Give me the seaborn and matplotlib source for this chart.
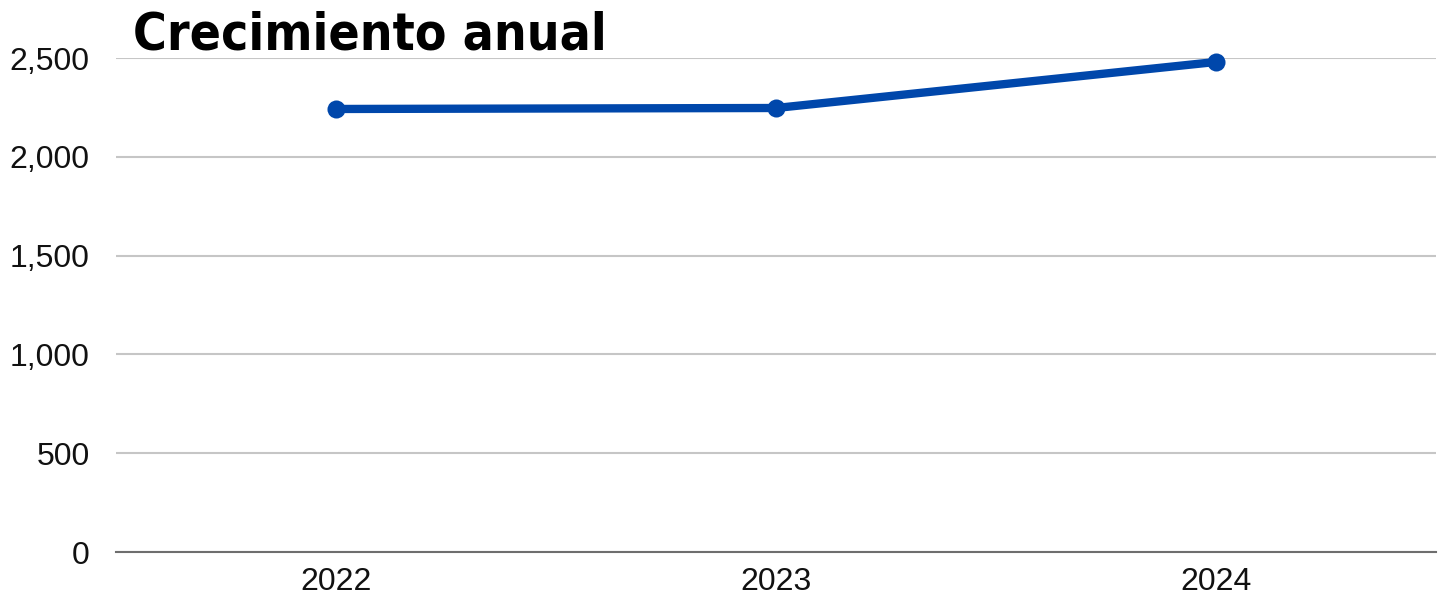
import matplotlib
matplotlib.use("Agg")
import matplotlib.pyplot as plt
import seaborn as sns
import pandas as pd

# data
years = ["2022", "2023", "2024"]
values = [2242, 2247, 2480]
y_ticks = [0, 500, 1000, 1500, 2000, 2500]

LINE_COLOR = "#0047AB"

sns.set_theme(style="white")
plt.rcParams["font.family"] = ["Liberation Sans", "DejaVu Sans"]

df = pd.DataFrame({"year": years, "value": values})

fig = plt.figure(figsize=(14.38, 5.99), dpi=100)
ax = fig.add_axes([116 / 1438, 1 - 552 / 599, 1320 / 1438, 494 / 599])

sns.lineplot(data=df, x="year", y="value", ax=ax, color=LINE_COLOR,
             linewidth=6, marker="o", markersize=13,
             markeredgewidth=0, clip_on=False)

ax.set_xlim(-0.5, len(years) - 0.5)
ax.set_ylim(0, 2500)
ax.set_yticks(y_ticks)
ax.set_yticklabels([f"{v:,}" for v in y_ticks])
ax.set_xlabel("")
ax.set_ylabel("")

ax.grid(axis="y", color="#c6c6c6", linewidth=1.5)
ax.grid(axis="x", visible=False)
ax.set_axisbelow(True)
for side in ["left", "right", "top"]:
    ax.spines[side].set_visible(False)
ax.spines["bottom"].set_color("#6e6e6e")
ax.spines["bottom"].set_linewidth(1.5)

ax.tick_params(axis="y", length=0, pad=19, labelsize=23, labelcolor="#111111")
ax.tick_params(axis="x", length=0, pad=11, labelsize=23, labelcolor="#111111")

fig.text(133 / 1438, 1 - 50 / 599, "Crecimiento anual",
         family="DejaVu Sans", fontstretch="condensed", fontweight="bold",
         fontsize=37, color="black", va="baseline", ha="left")

fig.savefig("out.png", dpi=100)
